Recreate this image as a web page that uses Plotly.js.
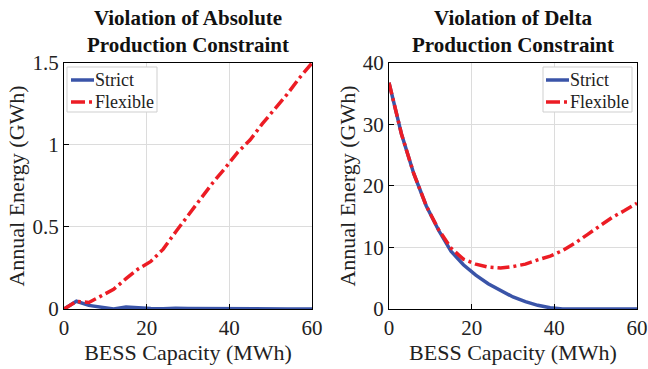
<!DOCTYPE html>
<html><head><meta charset="utf-8">
<script src="https://cdn.plot.ly/plotly-3.0.1.min.js"></script>
<style>html,body{margin:0;padding:0;background:#fff}</style>
</head><body><div id="chart" style="width:648px;height:369px"></div>
<script>
const capacity = [0,3,6,9,12,15,18,21,24,27,30,33,36,39,42,45,48,51,54,57,60];
const absStrict = [0,0.047,0.022,0.012,0.0,0.012,0.006,0.003,0.001,0.005,0.003,0.002,0.001,0.003,0.001,0,0,0,0,0,0];
const absFlexible = [0,0.047,0.04,0.078,0.12,0.185,0.245,0.29,0.365,0.47,0.57,0.67,0.77,0.86,0.955,1.03,1.13,1.22,1.31,1.41,1.50];
const deltaStrict = [36.8,28.5,22.0,16.8,12.8,9.4,7.2,5.5,4.1,3.0,1.95,1.2,0.6,0.2,0,0,0,0,0,0,0];
const deltaFlexible = [36.8,28.5,22.0,16.8,12.9,9.9,8.1,7.3,6.8,6.65,6.9,7.3,8.0,8.6,9.5,10.7,12.1,13.5,14.9,16.0,17.2];
const seriesNames = ['Strict','Flexible'];
const xTicks = [0,20,40,60];
const absTicks = [0,0.5,1,1.5];
const absTickText = ['0','0.5','1','1.5'];
const deltaTicks = [0,10,20,30,40];

const W = 648, H = 369;
const blue = '#3A54A8', red = '#EC1C24';
const fam = 'Liberation Serif';
const font = {family:fam, color:'#222'};
const dash = '12px,4px,3px,4px';
const styles = [{color:blue,width:3.5},{color:red,width:3.5,dash:dash}];

const traces = [
  {x:capacity,y:absStrict,name:seriesNames[0],mode:'lines',line:styles[0],xaxis:'x',yaxis:'y'},
  {x:capacity,y:absFlexible,name:seriesNames[1],mode:'lines',line:styles[1],xaxis:'x',yaxis:'y'},
  {x:capacity,y:deltaStrict,name:seriesNames[0],mode:'lines',line:styles[0],xaxis:'x2',yaxis:'y2'},
  {x:capacity,y:deltaFlexible,name:seriesNames[1],mode:'lines',line:styles[1],xaxis:'x2',yaxis:'y2'}
];
const axBase = {showline:true,mirror:true,linecolor:'#000',linewidth:1,ticks:'inside',ticklen:5,tickcolor:'#000',
  gridcolor:'#dcdcdc',zeroline:false,tickfont:{family:fam,color:'#222',size:21}};
const xTitle = {text:'BESS Capacity (MWh)',font:{family:fam,color:'#222',size:22},standoff:3};
const yTitle = {text:'Annual Energy (GWh)',font:{family:fam,color:'#222',size:22},standoff:1};

// legend boxes (drawn as layout decorations, pixel geometry -> paper coords)
const px = v => v/W, py = v => 1 - v/H;
const shapes = [], annotations = [];
function legendBox(x0, x1, y0, y1, lineX0, lineX1, textX, rowY) {
  shapes.push({type:'rect',xref:'paper',yref:'paper',x0:px(x0),x1:px(x1),y0:py(y1),y1:py(y0),
    fillcolor:'#fff',line:{color:'#cfcfcf',width:1},layer:'above'});
  seriesNames.forEach((n,i)=>{
    shapes.push({type:'line',xref:'paper',yref:'paper',x0:px(lineX0),x1:px(lineX1),y0:py(rowY[i]),y1:py(rowY[i]),
      line:{color:styles[i].color,width:3.5,dash:i?'14px,4px,3px,4px':'solid'},layer:'above'});
    annotations.push({text:n,xref:'paper',yref:'paper',x:px(textX),y:py(rowY[i]),xanchor:'left',yanchor:'middle',
      showarrow:false,font:{...font,size:18},xshift:-2});
  });
}
legendBox(67,157,67,112,71,94,95,[80,102]);
legendBox(543,632,67,112,546,569,570,[80,102]);

annotations.push(
  {text:'<b>Violation of Absolute<br>Production Constraint</b>',xref:'paper',yref:'paper',x:0.29,y:0.99,xanchor:'center',yanchor:'top',showarrow:false,font:{...font,size:21,color:'#111'}},
  {text:'<b>Violation of Delta<br>Production Constraint</b>',xref:'paper',yref:'paper',x:0.792,y:0.99,xanchor:'center',yanchor:'top',showarrow:false,font:{...font,size:21,color:'#111'}}
);

const layout = {
  width:W,height:H,margin:{l:0,r:0,t:0,b:0},paper_bgcolor:'#fff',plot_bgcolor:'#fff',
  font:{family:fam,color:'#222'},
  showlegend:false,
  xaxis:{...axBase,domain:[0.0988,0.4815],range:[0,60],tickvals:xTicks,title:xTitle,anchor:'y'},
  yaxis:{...axBase,domain:[0.1626,0.8293],range:[0,1.5],tickvals:absTicks,ticktext:absTickText,title:yTitle,anchor:'x'},
  xaxis2:{...axBase,domain:[0.6003,0.983],range:[0,60],tickvals:xTicks,title:xTitle,anchor:'y2'},
  yaxis2:{...axBase,domain:[0.1626,0.8293],range:[0,40],tickvals:deltaTicks,title:yTitle,anchor:'x2'},
  shapes:shapes, annotations:annotations
};
Plotly.newPlot('chart',traces,layout,{displayModeBar:false,staticPlot:true});
</script></body></html>
